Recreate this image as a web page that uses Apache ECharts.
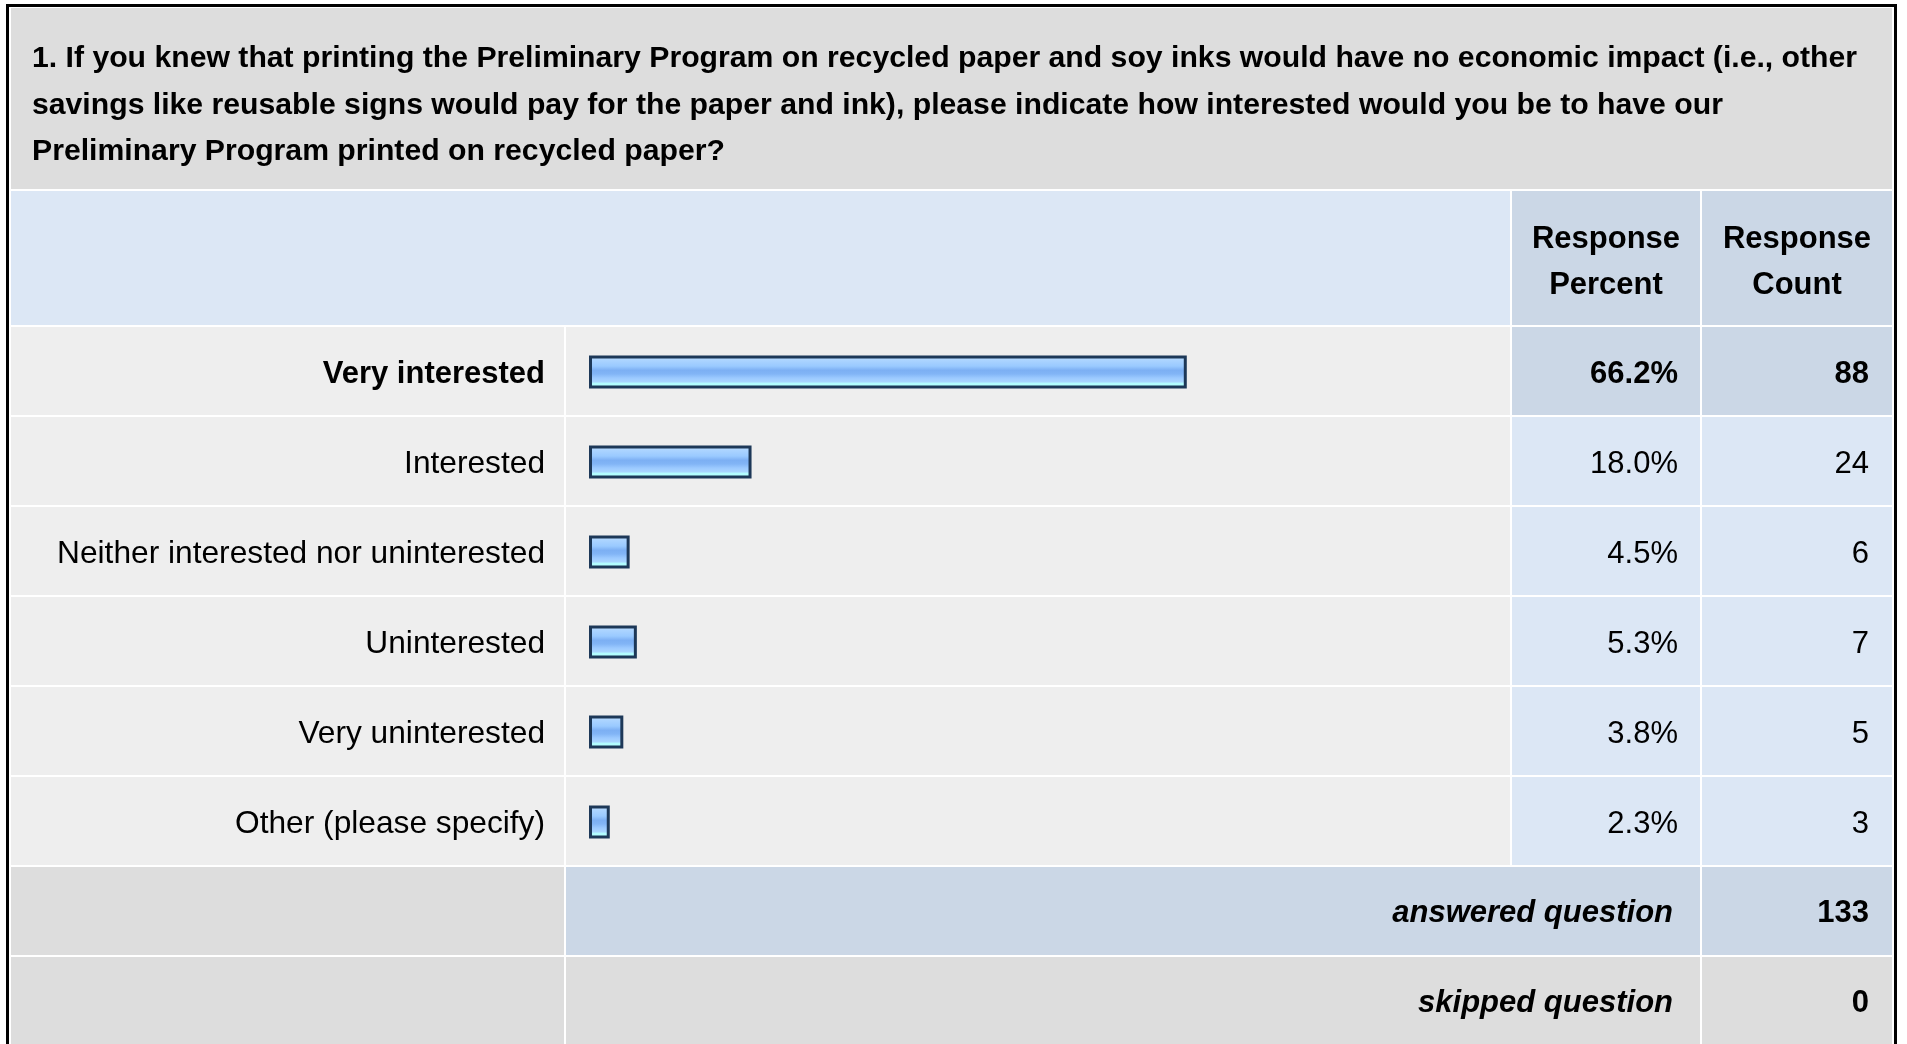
<!DOCTYPE html>
<html>
<head>
<meta charset="utf-8">
<script src="https://cdn.jsdelivr.net/npm/echarts@6/dist/echarts.min.js"></script>
<style>
html,body{margin:0;padding:0;background:#fff;}
#c{width:1907px;height:1044px;}
</style>
</head>
<body>
<div id="c"></div>
<script>
// ---- data ----
var categories = ['Very interested','Interested','Neither interested nor uninterested','Uninterested','Very uninterested','Other (please specify)'];
var percents = [66.2, 18.0, 4.5, 5.3, 3.8, 2.3];
var counts = [88, 24, 6, 7, 5, 3];
var answered = 133;
var skipped = 0;
var questionLines = [
  '1. If you knew that printing the Preliminary Program on recycled paper and soy inks would have no economic impact (i.e., other',
  'savings like reusable signs would pay for the paper and ink), please indicate how interested would you be to have our',
  'Preliminary Program printed on recycled paper?'
];
var headerPercent = 'Response\nPercent';
var headerCount = 'Response\nCount';
var answeredLabel = 'answered question';
var skippedLabel = 'skipped question';

// ---- layout ----
var FONT = '"Liberation Sans", Arial, Helvetica, sans-serif';
var FS = 31, FS_LABEL = 31.7, FS_TITLE = 30.2;
var C0 = [11, 564], C1 = [566, 1510], C2 = [1512, 1700], C3 = [1702, 1892];
var ROW_TOP = 327, ROW_H = 90, ROW_IN = 88;
var GRAY = '#dddddd', LIGHT = '#eeeeee', BLUE = '#dce7f5', BLUE2 = '#cbd7e6';

var g = [];
function rect(x0, x1, y0, y1, fill) {
  g.push({type:'rect', silent:true, z:-10, shape:{x:x0, y:y0, width:x1-x0, height:y1-y0}, style:{fill:fill}});
}
function text(x, y, str, opts) {
  g.push({type:'text', silent:true, z:10, x:x, y:y, style:Object.assign({
    text:str, fill:'#000', font:'normal ' + FS + 'px ' + FONT, align:'left', verticalAlign:'middle'
  }, opts || {})});
}
// outer frame
rect(6, 1897, 4, 1060, '#000');
rect(9, 1894, 7, 1060, '#fff');
// title
rect(11, 1892, 8, 189, GRAY);
text(32, 35.5, questionLines.join('\n'), {font:'bold ' + FS_TITLE + 'px ' + FONT, verticalAlign:'top', lineHeight:46.5});
// header
rect(C0[0], C1[1], 191, 325, BLUE);
rect(C2[0], C2[1], 191, 325, BLUE2);
rect(C3[0], C3[1], 191, 325, BLUE2);
text((C2[0]+C2[1])/2, 262.5, headerPercent, {font:'bold ' + FS + 'px ' + FONT, align:'center', lineHeight:46});
text((C3[0]+C3[1])/2, 262.5, headerCount, {font:'bold ' + FS + 'px ' + FONT, align:'center', lineHeight:46});
// data rows
for (var k = 0; k < categories.length; k++) {
  var y0 = ROW_TOP + ROW_H*k, y1 = y0 + ROW_IN;
  rect(C0[0], C0[1], y0, y1, LIGHT);
  rect(C1[0], C1[1], y0, y1, LIGHT);
  rect(C2[0], C2[1], y0, y1, k === 0 ? BLUE2 : BLUE);
  rect(C3[0], C3[1], y0, y1, k === 0 ? BLUE2 : BLUE);
}
// answered / skipped
var ya = ROW_TOP + ROW_H*categories.length;
rect(C0[0], C0[1], ya, ya+ROW_IN, GRAY);
rect(C1[0], C2[1], ya, ya+ROW_IN, BLUE2);
rect(C3[0], C3[1], ya, ya+ROW_IN, BLUE2);
var ys = ya + ROW_H;
rect(C0[0], C0[1], ys, ys+ROW_IN+10, GRAY);
rect(C1[0], C2[1], ys, ys+ROW_IN+10, GRAY);
rect(C3[0], C3[1], ys, ys+ROW_IN+10, GRAY);
text(1673, ya+46, answeredLabel, {font:'italic bold ' + FS + 'px ' + FONT, align:'right'});
text(1869, ya+46, String(answered), {font:'bold ' + FS + 'px ' + FONT, align:'right'});
text(1673, ys+46, skippedLabel, {font:'italic bold ' + FS + 'px ' + FONT, align:'right'});
text(1869, ys+46, String(skipped), {font:'bold ' + FS + 'px ' + FONT, align:'right'});

var GRID_L = 589, GRID_W = 903;
function richFor(size) {
  return {
    b:{fontWeight:'bold', fontSize:FS, fontFamily:FONT, color:'#000', padding:[5,0,0,0]},
    n:{fontWeight:'normal', fontSize:size, fontFamily:FONT, color:'#000', padding:[5,0,0,0]}
  };
}
function catAxis(pos, offset, margin, align, size, fmt) {
  return {
    type:'category', data:categories, inverse:true, position:pos, offset:offset,
    axisLine:{show:false}, axisTick:{show:false}, splitLine:{show:false},
    axisLabel:{interval:0, margin:margin, align:align, fontSize:size, fontFamily:FONT, color:'#000', rich:richFor(size),
      formatter:function(v, i){ return (i === 0 ? '{b|' : '{n|') + fmt(v, i) + '}'; }}
  };
}

var chart = echarts.init(document.getElementById('c'), null, {renderer:'canvas'});
chart.setOption({
  animation:false,
  backgroundColor:'#fff',
  grid:{left:GRID_L, top:ROW_TOP, width:GRID_W, height:ROW_H*categories.length, containLabel:false},
  xAxis:{type:'value', min:0, max:100, show:false},
  yAxis:[
    catAxis('left', 0, 44, 'right', FS_LABEL, function(v){ return v; }),
    catAxis('right', 1678-(GRID_L+GRID_W), 0, 'right', FS, function(v, i){ return percents[i].toFixed(1) + '%'; }),
    catAxis('right', 1869-(GRID_L+GRID_W), 0, 'right', FS, function(v, i){ return String(counts[i]); })
  ],
  series:[{
    type:'bar', data:percents, yAxisIndex:0, barWidth:33, silent:true,
    itemStyle:{
      borderColor:'#1d3858', borderWidth:3,
      color:new echarts.graphic.LinearGradient(0,0,0,1,[
        {offset:0, color:'#c8e5ff'},
        {offset:0.14, color:'#acd4ff'},
        {offset:0.32, color:'#9acaff'},
        {offset:0.45, color:'#7caff3'},
        {offset:0.56, color:'#82b5f6'},
        {offset:0.68, color:'#9bc9ff'},
        {offset:0.80, color:'#aad6ff'},
        {offset:0.84, color:'#b3fdff'},
        {offset:1, color:'#b3ffff'}
      ])
    }
  }],
  graphic:{elements:g}
});
</script>
</body>
</html>
